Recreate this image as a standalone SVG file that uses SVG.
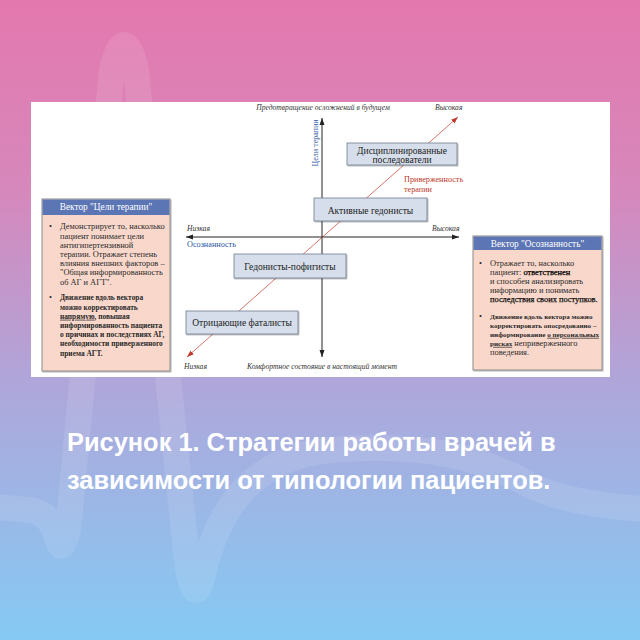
<svg xmlns="http://www.w3.org/2000/svg" width="640" height="640" viewBox="0 0 640 640">
<defs>
<linearGradient id="bg" x1="0" y1="0" x2="0" y2="1">
<stop offset="0" stop-color="#e478ae"/>
<stop offset="0.3" stop-color="#d688bc"/>
<stop offset="0.6" stop-color="#afa6da"/>
<stop offset="1" stop-color="#85caf4"/>
</linearGradient>
<marker id="ak" markerUnits="userSpaceOnUse" markerWidth="8" markerHeight="6" refX="7" refY="3" orient="auto-start-reverse">
<path d="M0,0.5 L7,3 L0,5.5 z" fill="#222"/>
</marker>
<marker id="ar" markerUnits="userSpaceOnUse" markerWidth="8" markerHeight="6" refX="7" refY="3" orient="auto-start-reverse">
<path d="M0,0.5 L7,3 L0,5.5 z" fill="#c0392b"/>
</marker>
<filter id="sh" x="-10%" y="-10%" width="130%" height="140%">
<feDropShadow dx="1" dy="1" stdDeviation="0.6" flood-color="#000" flood-opacity="0.3"/>
</filter>
<style>
.ser{font-family:"Liberation Serif","Times New Roman",serif;}
.it{font-family:"Liberation Serif","Times New Roman",serif;font-style:italic;font-size:7.6px;fill:#333;}
.node rect{fill:#d5deea;stroke:#6e7c90;stroke-width:0.8;filter:url(#sh);}
.node text{font-family:"Liberation Serif","Times New Roman",serif;font-size:9.5px;fill:#222;text-anchor:middle;}
.panel .body{fill:#f9d8cb;stroke:#8c8c8c;stroke-width:1;filter:url(#sh);}
.panel .head{fill:#5b75b5;}
.panel .ht{font-family:"Liberation Serif","Times New Roman",serif;font-size:9.3px;fill:#fff;text-anchor:middle;}
.panel .tx{font-family:"Liberation Serif","Times New Roman",serif;font-size:8.4px;fill:#2a2a2a;}
#panel-goals .b{font-weight:bold;font-size:7.4px;}
#panel-awareness .b{font-weight:bold;font-size:7.1px;}
.sb{fill:#000;stroke:#000;stroke-width:0.25;}
.u{text-decoration:underline;}
.title{font-family:"Liberation Sans",Arial,sans-serif;font-weight:bold;font-size:25.4px;fill:#fff;}
</style>
</defs>
<rect width="640" height="640" fill="url(#bg)"/>
<path d="M-30 505 L30 510 Q50 512 58 540 Q62 555 68 530 L112 70 Q124 20 136 70 L188 570 Q196 610 204 570 Q230 460 330 450 Q450 440 520 480 Q560 505 660 510" fill="none" stroke="#fff" stroke-opacity="0.1" stroke-width="26" stroke-linecap="round" stroke-linejoin="round"/>
<rect x="31" y="102" width="579" height="275" fill="#fff"/>

<g id="connectors">
<line x1="322" y1="357" x2="322" y2="118" stroke="#222" stroke-width="1" marker-start="url(#ak)" marker-end="url(#ak)"/>
<line x1="186" y1="237" x2="459" y2="237" stroke="#222" stroke-width="1" marker-start="url(#ak)" marker-end="url(#ak)"/>
<line x1="187" y1="357" x2="458" y2="117" stroke="#c0392b" stroke-width="0.7" marker-start="url(#ar)" marker-end="url(#ar)"/>
</g>

<g id="axis-labels">
<text class="it" x="323" y="110" text-anchor="middle">Предотвращение осложнений в будущем</text>
<text class="it" x="435" y="110">Высокая</text>
<text class="it" x="432" y="231">Высокая</text>
<text class="it" x="187" y="231">Низкая</text>
<text class="ser" x="187" y="247" font-size="8.2" fill="#2e58a6">Осознанность</text>
<text class="it" x="184" y="369">Низкая</text>
<text class="it" x="247" y="369">Комфортное состояние в настоящий момент</text>
<text class="ser" transform="translate(318,143) rotate(-90)" text-anchor="middle" font-size="8" fill="#2e58a6">Цели терапии</text>
<text class="ser" x="404" y="182" font-size="8.2" fill="#c0392b">Приверженность</text>
<text class="ser" x="404" y="192" font-size="8.2" fill="#c0392b">терапии</text>
</g>

<g id="node-disciplined" class="node">
<rect x="347" y="143" width="110" height="22"/>
<text x="402" y="153.5">Дисциплинированные</text>
<text x="402" y="163">последователи</text>
</g>
<g id="node-active" class="node">
<rect x="314" y="198" width="113" height="23"/>
<text x="370.5" y="213.5">Активные гедонисты</text>
</g>
<g id="node-hedonists" class="node">
<rect x="234" y="254" width="112" height="24"/>
<text x="290" y="269.5">Гедонисты-пофигисты</text>
</g>
<g id="node-fatalists" class="node">
<rect x="186" y="311" width="112" height="23"/>
<text x="242" y="326">Отрицающие фаталисты</text>
</g>

<g id="panel-goals" class="panel">
<rect class="body" x="42" y="199" width="128" height="172"/>
<rect class="head" x="42.5" y="199.5" width="127" height="15.5"/>
<text class="ht" x="106" y="210">Вектор "Цели терапии"</text>
<text class="tx" x="49" y="229.3">•</text>
<text class="tx" x="60" y="229.3">Демонстрирует то, насколько</text>
<text class="tx" x="60" y="238.5">пациент понимает цели</text>
<text class="tx" x="60" y="247.7">антигипертензивной</text>
<text class="tx" x="60" y="256.9">терапии. Отражает степень</text>
<text class="tx" x="60" y="266.1">влияния внешних факторов –</text>
<text class="tx" x="60" y="275.3">"Общая информированность</text>
<text class="tx" x="60" y="284.5">об АГ и АГТ".</text>
<text class="tx" x="49" y="300.3">•</text>
<text class="tx b" x="60" y="300.3">Движение вдоль вектора</text>
<text class="tx b" x="60" y="309.5">можно корректировать</text>
<text class="tx b" x="60" y="318.7"><tspan class="u">напрямую</tspan>, повышая</text>
<text class="tx b" x="60" y="327.9">информированность пациента</text>
<text class="tx b" x="60" y="337.1">о причинах и последствиях АГ,</text>
<text class="tx b" x="60" y="346.3">необходимости приверженного</text>
<text class="tx b" x="60" y="355.5">приема АГТ.</text>
</g>

<g id="panel-awareness" class="panel">
<rect class="body" x="473" y="236" width="129" height="134"/>
<rect class="head" x="473.5" y="236.5" width="128" height="13.5"/>
<text class="ht" x="537.5" y="246.5">Вектор "Осознанность"</text>
<text class="tx" x="479" y="265.5">•</text>
<text class="tx" x="490" y="265.5">Отражает то, насколько</text>
<text class="tx" x="490" y="274.5">пациент: <tspan class="sb">ответственен</tspan></text>
<text class="tx" x="490" y="283.5">и способен анализировать</text>
<text class="tx" x="490" y="292.5">информацию и понимать</text>
<text class="tx sb" x="490" y="301.5">последствия своих поступков.</text>
<text class="tx" x="479" y="318.8">•</text>
<text class="tx b" x="490" y="318.8">Движение вдоль вектора можно</text>
<text class="tx b" x="490" y="327.8">корректировать опосредованно –</text>
<text class="tx b" x="490" y="336.8">информирование <tspan class="u">о персональных</tspan></text>
<text class="tx" x="490" y="345.8"><tspan class="b u">рисках</tspan> неприверженного</text>
<text class="tx" x="490" y="354.8">поведения.</text>
</g>

<g id="title">
<text class="title" x="67" y="451">Рисунок 1. Стратегии работы врачей в</text>
<text class="title" x="67" y="489">зависимости от типологии пациентов.</text>
</g>
</svg>
